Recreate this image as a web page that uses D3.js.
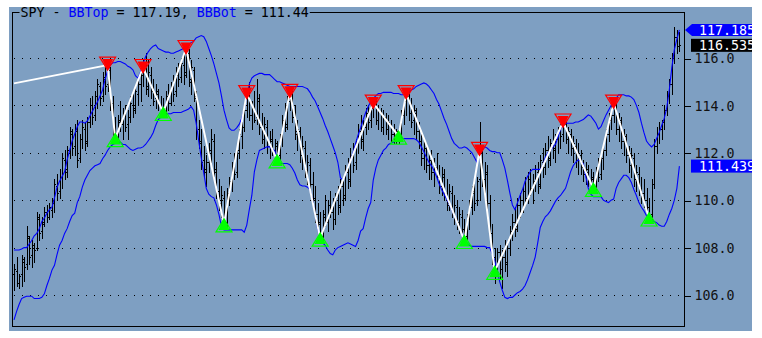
<!DOCTYPE html>
<html>
<head>
<meta charset="utf-8">
<script src="https://cdn.jsdelivr.net/npm/d3@7"></script>
<style>
  body { margin: 0; background: #fff; }
  svg { display: block; }
  text { font-family: "DejaVu Sans Mono", monospace; }
</style>
</head>
<body>
<svg id="chart"></svg>
<script>
// Daily SPY bars (oldest first)
const opens = [
  106.9,107.0,106.5,106.9,107.4,107.3,108.4,107.7,108.0,108.0,
  109.2,108.7,109.0,109.5,109.3,109.6,110.0,110.6,110.4,111.0,
  111.7,111.3,112.0,112.8,112.3,112.9,111.8,112.6,113.0,112.5,
  113.3,114.0,113.6,114.4,114.8,114.4,115.1,114.9,115.5,114.1,
  113.0,112.8,113.3,113.2,113.6,113.2,113.5,114.0,113.9,114.5,
  114.9,115.3,115.4,114.8,115.3,114.6,114.3,114.5,114.0,113.9,
  113.9,114.4,114.1,114.8,114.6,115.3,115.2,115.7,115.4,116.2,
  115.1,115.5,114.3,113.0,112.4,111.7,111.3,111.6,112.1,112.5,
  111.2,110.4,110.0,110.1,109.1,110.3,110.8,111.3,111.2,112.1,
  112.7,113.1,113.8,114.4,113.6,113.9,113.5,114.2,113.1,112.6,
  113.1,112.3,112.5,112.1,112.3,111.9,112.6,113.4,113.2,114.2,
  114.4,113.5,112.9,112.9,111.9,112.2,111.3,111.5,110.7,110.1,
  109.4,109.0,108.5,109.3,109.1,109.8,109.5,109.2,110.0,109.8,
  110.6,110.2,111.2,110.9,111.9,111.6,112.4,112.9,112.6,113.1,
  113.7,113.4,113.9,114.0,113.4,113.7,113.1,113.5,113.0,113.2,
  112.8,112.6,112.8,112.8,113.6,114.2,114.4,113.7,113.4,113.7,
  112.9,112.5,111.8,112.2,111.5,111.7,111.2,111.4,111.0,110.6,
  111.0,110.3,109.9,110.3,109.5,109.7,109.1,109.3,108.8,108.5,
  109.2,109.7,110.3,110.0,110.9,112.0,110.9,111.1,109.9,108.6,
  107.6,107.0,107.8,107.1,107.6,107.4,108.0,108.6,109.1,108.9,
  109.8,110.0,110.4,110.1,110.9,110.5,110.8,111.2,110.7,111.6,
  111.4,112.1,111.8,112.4,112.1,112.6,112.9,112.8,113.2,112.6,
  112.8,112.2,112.3,111.7,111.9,111.4,111.1,111.2,110.8,110.9,
  110.6,111.2,111.1,111.8,112.1,112.8,113.4,113.6,114.0,113.0,
  113.3,112.5,112.6,111.9,111.5,111.8,110.9,111.1,110.5,110.3,
  110.0,109.7,109.4,110.7,112.3,112.8,113.0,113.3,113.8,114.4,
  114.9,116.0,116.9,116.5
];
const highs = [
  107.3,107.6,106.9,107.7,107.6,108.9,108.5,108.3,108.2,109.5,
  109.4,109.3,109.7,109.8,109.9,110.1,110.9,111.1,111.3,112.0,
  112.1,112.3,113.1,113.0,113.2,113.4,112.8,113.4,113.3,113.5,
  114.3,114.4,114.6,115.1,115.0,115.4,115.6,115.8,115.6,114.4,
  113.5,113.6,114.2,113.9,114.0,113.8,114.4,114.6,114.8,115.2,
  115.5,115.9,116.2,115.9,115.6,115.1,114.9,114.7,114.4,114.3,
  114.6,114.9,115.0,115.3,115.6,115.8,116.0,116.3,116.5,116.4,
  115.9,115.6,114.6,113.4,113.0,112.3,111.9,112.4,113.0,112.8,
  111.6,110.9,110.6,110.4,110.5,111.0,111.6,112.0,112.3,113.0,
  113.3,114.0,114.6,115.0,114.2,114.6,115.1,114.5,113.7,113.5,
  113.4,112.9,113.0,112.6,112.5,112.8,113.6,114.1,114.4,114.8,
  114.6,114.0,113.4,113.1,112.7,112.5,111.9,111.8,111.2,110.6,
  109.9,109.5,109.6,110.2,110.0,110.4,110.1,110.3,110.6,110.9,
  111.0,111.5,111.8,112.2,112.4,112.6,113.2,113.6,113.4,113.9,
  114.0,114.2,114.3,114.2,114.0,113.9,113.8,113.7,113.6,113.4,
  113.2,113.0,113.1,113.8,114.4,114.7,114.6,114.3,114.0,113.9,
  113.3,112.9,112.5,112.4,112.0,112.1,111.8,112.0,111.5,111.4,
  111.3,110.9,110.7,110.6,110.2,110.0,109.7,109.6,109.2,109.4,
  110.0,110.6,110.7,111.0,113.3,112.3,111.6,111.5,110.2,109.0,
  108.0,108.0,108.1,107.9,108.3,108.2,108.9,109.4,109.7,110.1,
  110.3,110.6,111.0,111.2,111.3,111.1,111.5,111.6,111.9,112.2,
  112.4,112.7,112.6,113.0,112.8,113.1,113.2,113.5,113.3,113.1,
  113.0,112.7,112.6,112.4,112.1,111.7,111.6,111.5,111.3,111.2,
  111.4,111.8,112.0,112.3,113.0,113.7,114.0,114.3,114.1,113.7,
  113.5,113.0,112.8,112.3,112.2,112.0,111.5,111.4,111.0,110.9,
  110.5,110.1,110.9,112.6,113.1,113.3,113.4,114.0,114.6,115.1,
  116.2,117.3,117.2,117.1
];
const lows = [
  106.2,106.4,106.3,106.4,106.6,107.1,107.3,107.2,107.4,107.9,
  108.3,108.4,108.9,109.1,109.2,109.3,109.5,110.0,110.1,110.5,
  110.9,111.0,111.8,111.9,111.9,111.4,111.6,112.2,112.1,112.3,
  113.1,113.2,113.4,113.9,114.0,114.2,114.5,114.6,113.8,112.7,
  112.5,112.6,112.9,112.6,112.9,112.6,113.3,113.5,113.7,114.0,
  114.2,114.8,114.5,114.4,114.3,114.0,113.9,113.8,113.8,113.6,
  113.7,113.8,114.0,114.2,114.4,114.8,115.0,114.9,115.2,114.8,
  114.5,114.2,112.6,112.2,111.3,111.0,110.6,111.2,111.6,111.0,
  110.1,109.6,109.3,108.8,108.9,109.8,110.4,110.9,111.0,111.8,
  112.2,112.9,113.5,113.4,113.0,113.3,113.2,112.8,112.4,112.2,
  112.0,111.8,111.9,111.7,111.6,111.7,112.3,112.9,113.0,113.8,
  113.3,112.6,112.1,111.6,111.3,111.0,110.7,110.4,109.8,109.1,
  108.6,108.2,108.3,108.9,108.7,109.3,108.8,109.0,109.4,109.5,
  109.8,110.0,110.5,110.6,111.2,111.3,112.0,112.2,112.1,112.8,
  113.0,113.1,113.5,113.2,113.0,112.9,112.8,112.8,112.6,112.5,
  112.4,112.4,112.4,112.6,113.2,113.6,113.4,113.1,112.8,112.6,
  112.2,111.5,111.3,111.2,110.9,110.9,110.6,110.9,110.3,110.2,
  110.0,109.6,109.6,109.3,109.0,108.8,108.6,108.5,108.2,108.3,
  108.8,109.4,109.6,109.8,110.0,110.6,110.1,109.6,108.3,107.3,
  106.5,106.8,106.7,106.3,107.0,106.8,107.7,108.3,108.5,108.7,
  109.3,109.5,109.8,109.9,110.2,109.9,110.4,110.3,110.5,111.0,
  111.1,111.4,111.5,111.8,111.6,112.0,112.2,112.5,112.4,112.0,
  111.9,111.6,111.4,111.1,111.1,110.8,110.7,110.6,110.4,110.3,
  110.4,110.8,110.9,111.3,111.9,112.5,113.0,113.3,112.8,112.5,
  112.2,111.9,111.6,111.2,111.0,110.6,110.4,110.2,109.9,109.7,
  109.5,109.3,109.2,110.5,112.0,112.4,112.6,113.0,113.6,114.1,
  114.5,115.8,116.2,116.3
];
const closes = [
  107.1,106.5,106.8,107.5,107.2,108.5,107.6,108.1,107.9,109.3,
  108.6,109.1,109.5,109.3,109.7,109.9,110.7,110.3,111.0,111.8,
  111.2,112.1,112.9,112.2,113.0,111.7,112.6,113.1,112.4,113.3,
  114.0,113.5,114.4,114.9,114.3,115.2,114.8,115.6,114.0,113.0,
  112.7,113.4,113.2,113.6,113.1,113.5,114.1,113.8,114.6,114.9,
  115.3,115.5,114.7,115.4,114.6,114.2,114.6,114.0,113.9,113.8,
  114.4,114.1,114.8,114.5,115.4,115.1,115.8,115.3,116.3,115.0,
  115.6,114.4,112.9,112.5,111.6,111.2,111.6,112.0,112.6,111.3,
  110.4,109.9,110.2,109.0,110.3,110.8,111.4,111.1,112.1,112.8,
  113.1,113.8,114.4,113.6,113.9,113.4,114.3,113.1,112.6,113.2,
  112.3,112.6,112.1,112.4,111.8,112.6,113.4,113.1,114.2,114.5,
  113.5,112.8,113.0,111.9,112.3,111.3,111.6,110.7,110.0,109.4,
  109.1,108.4,109.4,109.1,109.8,109.5,109.2,110.1,109.7,110.6,
  110.1,111.3,110.8,111.9,111.5,112.4,112.9,112.5,113.2,113.7,
  113.3,113.9,114.1,113.4,113.8,113.1,113.5,113.0,113.3,112.8,
  112.6,112.9,112.7,113.6,114.2,114.5,113.7,113.3,113.8,112.9,
  112.5,111.8,112.2,111.5,111.7,111.2,111.5,111.0,110.6,111.1,
  110.3,109.8,110.4,109.5,109.8,109.1,109.4,108.8,108.4,109.2,
  109.7,110.4,109.9,110.8,112.1,110.9,111.2,109.9,108.6,107.6,
  107.0,107.8,107.1,107.6,107.3,108.0,108.7,109.1,108.8,109.8,
  110.0,110.4,110.1,110.9,110.5,110.8,111.3,110.6,111.7,111.4,
  112.1,111.7,112.4,112.2,112.6,112.9,112.7,113.3,112.6,112.9,
  112.2,112.4,111.7,112.0,111.4,111.1,111.3,110.8,111.0,110.5,
  111.2,111.0,111.8,112.1,112.8,113.4,113.6,114.1,113.0,113.4,
  112.5,112.7,111.9,111.5,111.9,110.9,111.2,110.5,110.3,110.0,
  109.7,109.3,110.7,112.3,112.8,113.0,113.3,113.8,114.4,114.9,
  116.0,116.9,116.5,116.535
];

// Bollinger bands as plotted
const bbTop = [
  107.9,107.9,107.9,107.94,108.0,108.0,108.15,108.3,108.5,108.6,
  108.8,109.1,109.25,109.45,109.6,109.7,110.1,110.55,110.8,111.0,
  111.2,111.7,112.1,112.5,112.8,113.1,113.3,113.3,113.25,113.35,
  113.55,113.75,113.95,114.15,114.4,114.65,115.1,115.45,115.7,115.8,
  115.8,115.85,115.85,115.8,115.75,115.65,115.6,115.5,115.25,115.15,
  115.4,115.75,116.05,116.25,116.4,116.5,116.55,116.4,116.35,116.3,
  116.25,116.25,116.2,116.2,116.25,116.3,116.35,116.4,116.4,116.55,
  116.65,116.7,116.85,116.9,116.95,116.9,116.7,116.4,116.1,115.75,
  115.35,114.95,114.4,113.8,113.4,113.05,112.95,112.95,113.05,113.2,
  113.45,113.85,114.4,114.9,115.15,115.25,115.3,115.35,115.35,115.3,
  115.3,115.3,115.2,115.1,115.0,115.0,114.95,114.9,114.85,114.8,
  114.8,114.8,114.8,114.8,114.8,114.75,114.7,114.55,114.35,114.2,
  113.95,113.7,113.45,113.15,112.9,112.6,112.3,112.0,111.6,110.95,
  110.85,111.1,111.4,111.7,112.0,112.4,112.75,113.05,113.4,113.7,
  113.95,114.15,114.3,114.4,114.5,114.5,114.55,114.55,114.55,114.55,
  114.5,114.5,114.5,114.45,114.45,114.5,114.55,114.65,114.7,114.8,
  114.85,114.9,114.95,114.9,114.8,114.65,114.5,114.25,114.05,113.75,
  113.45,113.2,112.9,112.6,112.4,112.3,112.2,112.2,112.25,112.2,
  112.1,112.0,111.8,111.6,111.9,112.1,112.25,112.2,112.1,112.05,
  112.05,112.0,112.0,111.7,111.35,110.85,110.3,109.8,109.6,109.9,
  110.2,110.45,110.8,111.0,111.2,111.3,111.3,111.3,111.3,111.45,
  111.8,112.0,112.1,112.25,112.35,112.65,113.0,113.25,113.25,113.25,
  113.25,113.25,113.3,113.3,113.35,113.4,113.5,113.6,113.55,113.4,
  113.25,113.0,113.1,113.35,113.6,113.8,114.0,114.2,114.3,114.45,
  114.45,114.45,114.4,114.4,114.35,114.25,114.0,113.7,113.25,112.85,
  112.5,112.35,112.25,112.35,112.6,112.85,113.15,113.45,113.9,114.65,
  115.6,116.35,116.8,117.19
];
const bbBot = [
  104.95,105.3,105.6,105.85,105.9,105.95,105.95,105.95,105.85,105.85,
  105.85,105.9,106.05,106.4,106.7,107.05,107.25,107.7,108.1,108.3,
  108.6,108.8,109.1,109.35,109.45,109.9,110.15,110.55,110.85,111.05,
  111.25,111.35,111.45,111.5,111.55,111.75,111.9,112.1,112.25,112.35,
  112.4,112.45,112.45,112.35,112.35,112.25,112.15,112.1,112.15,112.2,
  112.2,112.25,112.35,112.5,112.65,112.85,113.15,113.4,113.5,113.6,
  113.6,113.65,113.65,113.7,113.7,113.7,113.7,113.75,113.8,113.85,
  113.95,113.8,113.25,112.5,111.8,111.15,110.5,110.25,110.15,110.1,
  109.8,109.4,108.9,108.75,108.75,108.75,108.75,108.75,108.75,108.75,
  108.75,108.65,108.95,109.6,110.2,111.2,111.7,112.1,112.15,112.2,
  112.25,112.25,112.15,112.1,111.8,111.55,111.55,111.55,111.55,111.5,
  111.35,111.15,110.85,110.65,110.6,110.6,110.55,110.45,110.0,109.45,
  108.8,108.35,108.2,108.1,107.9,107.75,107.7,107.9,108.0,108.05,
  108.1,108.15,108.2,108.15,108.1,108.05,108.3,108.7,108.8,109.25,
  109.65,109.9,110.85,111.35,111.7,111.9,112.1,112.2,112.35,112.4,
  112.45,112.55,112.6,112.6,112.6,112.6,112.6,112.6,112.6,112.55,
  112.45,112.25,112.05,111.8,111.6,111.45,111.25,111.0,110.7,110.45,
  110.25,110.05,109.85,109.6,109.35,109.1,108.85,108.6,108.4,108.2,
  108.1,108.05,108.05,108.05,108.05,108.05,108.05,108.0,108.0,107.75,
  107.45,107.0,106.55,106.2,105.9,105.85,105.9,105.9,106.0,106.1,
  106.15,106.25,106.4,106.65,106.95,107.25,107.6,108.2,108.85,109.1,
  109.3,109.4,109.55,109.75,109.95,110.1,110.2,110.35,110.5,110.85,
  111.2,111.45,111.6,111.7,111.65,111.55,111.0,110.5,110.25,110.15,
  110.15,110.15,110.15,110.0,109.95,109.9,110.0,110.05,110.5,110.75,
  110.9,111.05,111.05,110.95,110.75,110.45,110.2,109.9,109.7,109.55,
  109.35,109.25,109.15,109.1,109.05,108.95,108.9,108.9,109.1,109.4,
  109.65,110.0,110.5,111.44
];

// Zigzag turning points: bar index, price, kind (H = peak, L = trough)
const pivotBars   = [37, 40, 51, 59, 68, 83, 92, 104, 109, 121, 142, 152, 155, 178, 184, 190, 217, 229, 237, 251];
const pivotPrices = [115.7, 112.6, 115.6, 113.7, 116.4, 109.0, 114.5, 111.7, 114.55, 108.4,
                     114.1, 112.7, 114.5, 108.3, 112.1, 107.0, 113.3, 110.5, 114.1, 109.25];
const pivotKinds  = ['H','L','H','L','H','L','H','L','H','L','H','L','H','L','H','L','H','L','H','L'];
// the zigzag leg coming in from before the first bar
const zigStart = 114.93;

const priceTicks = [106, 108, 110, 112, 114, 116];

// Last values shown on the price scale
const lastTop = 117.185;
const lastClose = 116.535;
const lastBot = 111.439;

const BG = '#7e9fc2';
const W = 762, H = 338;
const plot = { left: 12, top: 12, right: 684, bottom: 326 };

const svg = d3.select('#chart')
  .attr('width', W)
  .attr('height', H);

// chart canvas
svg.append('rect')
  .attr('x', 9).attr('y', 7)
  .attr('width', 743).attr('height', 324)
  .attr('fill', BG);

const defs = svg.append('defs');
defs.append('clipPath').attr('id', 'plotClip')
  .append('rect')
  .attr('x', plot.left).attr('y', plot.top)
  .attr('width', plot.right - plot.left).attr('height', plot.bottom - plot.top);
defs.append('clipPath').attr('id', 'canvasClip')
  .append('rect')
  .attr('x', 9).attr('y', 7).attr('width', 743).attr('height', 324);

const N = closes.length;
const xScale = d3.scaleLinear().domain([0, N - 1]).range([14, 679.4]);
const yScale = d3.scaleLinear().domain([104.692, 117.941]).range([plot.bottom, plot.top]);
const px = i => Math.round(xScale(i)) + 0.5;
const py = v => Math.round(yScale(v)) + 0.5;

// dotted grid
svg.append('g')
  .selectAll('line')
  .data(priceTicks)
  .enter()
  .append('line')
  .attr('x1', plot.left + 2)
  .attr('x2', plot.right)
  .attr('y1', d => py(d))
  .attr('y2', d => py(d))
  .attr('stroke', '#000')
  .attr('stroke-dasharray', '1,7')
  .attr('shape-rendering', 'crispEdges');

const body = svg.append('g').attr('clip-path', 'url(#plotClip)');

// price bars
const bars = body.append('g')
  .attr('stroke', '#000')
  .attr('stroke-width', 1)
  .attr('shape-rendering', 'crispEdges');

d3.range(N).forEach(i => {
  const xi = px(i);
  bars.append('line')
    .attr('x1', xi).attr('x2', xi)
    .attr('y1', Math.round(yScale(highs[i])))
    .attr('y2', Math.round(yScale(lows[i])) + 1);
  bars.append('line')
    .attr('x1', xi - 1.5).attr('x2', xi)
    .attr('y1', py(opens[i])).attr('y2', py(opens[i]));
  bars.append('line')
    .attr('x1', xi).attr('x2', xi + 1.5)
    .attr('y1', py(closes[i])).attr('y2', py(closes[i]));
});

// Bollinger bands
const bandLine = d3.line()
  .x((d, i) => xScale(i))
  .y(d => yScale(d));

body.append('path')
  .datum(bbTop)
  .attr('d', bandLine)
  .attr('fill', 'none')
  .attr('stroke', '#0000ff')
  .attr('stroke-width', 1.1);

body.append('path')
  .datum(bbBot)
  .attr('d', bandLine)
  .attr('fill', 'none')
  .attr('stroke', '#0000ff')
  .attr('stroke-width', 1.1);

// zigzag
const zig = [[0, zigStart]].concat(pivotBars.map((b, k) => [b, pivotPrices[k]]));
body.append('path')
  .datum(zig)
  .attr('d', d3.line().x(d => xScale(d[0])).y(d => yScale(d[1])))
  .attr('fill', 'none')
  .attr('stroke', '#fff')
  .attr('stroke-width', 2);

// turning point markers
pivotBars.forEach((b, k) => {
  const cx = xScale(b);
  const cy = yScale(pivotPrices[k]);
  const up = pivotKinds[k] === 'L';
  const col = up ? '#00ff00' : '#ff0000';
  const s = up ? 1 : -1;
  // hollow triangle
  body.append('path')
    .attr('d', `M${cx - 8},${cy + s * 8} L${cx + 8},${cy + s * 8} L${cx},${cy - s * 5} Z`)
    .attr('fill', 'none')
    .attr('stroke', col)
    .attr('stroke-width', 1.2);
  // filled triangle
  body.append('path')
    .attr('d', `M${cx - 5.5},${cy + s * 6} L${cx + 5.5},${cy + s * 6} L${cx},${cy - s * 6} Z`)
    .attr('fill', col);
});

// frame
svg.append('rect')
  .attr('x', plot.left + 0.5).attr('y', plot.top + 0.5)
  .attr('width', plot.right - plot.left).attr('height', plot.bottom - plot.top)
  .attr('fill', 'none')
  .attr('stroke', '#000')
  .attr('stroke-width', 1)
  .attr('shape-rendering', 'crispEdges');

// price scale on the right
const yAxis = d3.axisRight(yScale)
  .tickValues(priceTicks)
  .tickSize(6)
  .tickPadding(4)
  .tickFormat(d3.format('.1f'));

const axisG = svg.append('g')
  .attr('transform', `translate(${plot.right + 0.5}, 0.5)`)
  .call(yAxis);
axisG.select('.domain').remove();
axisG.selectAll('line').attr('stroke', '#000').attr('shape-rendering', 'crispEdges');
axisG.selectAll('text')
  .attr('fill', '#111')
  .style('font-family', '"DejaVu Sans Mono", monospace')
  .style('font-size', '13.3px');

// last value tags
const tags = svg.append('g').attr('clip-path', 'url(#canvasClip)');
const tagData = [
  { v: lastTop, fill: '#0000ff', arrow: true },
  { v: lastClose, fill: '#000000', arrow: false },
  { v: lastBot, fill: '#0000ff', arrow: false }
];
tagData.forEach(t => {
  const cy = yScale(t.v);
  if (t.arrow) {
    tags.append('path')
      .attr('d', `M685,${cy} L692,${cy - 6} L760,${cy - 6} L760,${cy + 6} L692,${cy + 6} Z`)
      .attr('fill', t.fill);
  } else {
    tags.append('rect')
      .attr('x', 691).attr('y', cy - 6.5)
      .attr('width', 70).attr('height', 13)
      .attr('fill', t.fill);
  }
  tags.append('text')
    .attr('x', 699)
    .attr('y', cy)
    .attr('dy', '0.36em')
    .attr('fill', '#fff')
    .style('font-size', '13.3px')
    .text(t.v.toFixed(3));
});

// title, with a patch of background hiding the frame line behind it
const titleBg = svg.append('rect').attr('fill', BG);
const title = svg.append('text')
  .attr('x', 20.5)
  .attr('y', 17)
  .style('font-size', '13.3px')
  .attr('fill', '#000');
const parts = [
  ['SPY - ', '#000'], ['BBTop', '#0000ff'], [' = ' + bbTop[N - 1].toFixed(2) + ', ', '#000'],
  ['BBBot', '#0000ff'], [' = ' + bbBot[N - 1].toFixed(2), '#000']
];
parts.forEach(p => {
  title.append('tspan').attr('fill', p[1]).text(p[0]);
});
const bb = title.node().getBBox();
titleBg
  .attr('x', bb.x - 1).attr('y', plot.top - 1)
  .attr('width', bb.width + 2).attr('height', 3);
</script>
</body>
</html>
